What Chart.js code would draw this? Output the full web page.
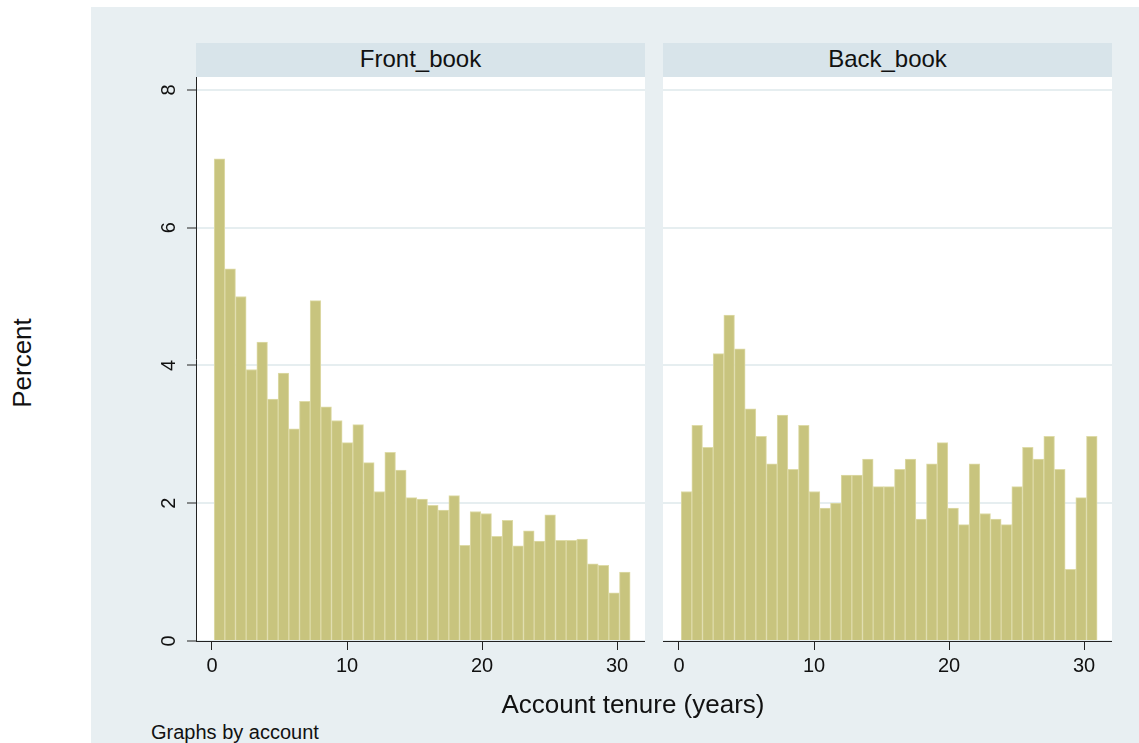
<!DOCTYPE html>
<html>
<head>
<meta charset="utf-8">
<script src="https://cdn.jsdelivr.net/npm/chart.js@4.4.1/dist/chart.umd.min.js"></script>
<style>
body { margin:0; background:#fff; font-family:"Liberation Sans", Arial, Helvetica, sans-serif; color:#111; }
#page { position:relative; width:1139px; height:743px; overflow:hidden; }
.bg { position:absolute; left:91px; top:7px; width:1048px; height:736px; background:#e8eff2; }
.strip { position:absolute; top:43px; height:34px; width:449px; background:#d8e4ea; font-size:24px; line-height:31px; text-align:center; }
.plot { position:absolute; top:77px; height:564px; width:449px; background:#fff; }
canvas { position:absolute; }
.lbl { position:absolute; white-space:nowrap; line-height:1; }
</style>
</head>
<body>
<div id="page">
  <div class="bg"></div>
  <div class="strip" style="left:196px">Front_book</div>
  <div class="strip" style="left:663px">Back_book</div>
  <div class="plot" style="left:196px"></div>
  <div class="plot" style="left:663px"></div>
  <canvas id="front" width="545" height="613" style="left:100px; top:77px"></canvas>
  <canvas id="back" width="449" height="613" style="left:663px; top:77px"></canvas>
  <div class="lbl" style="left:22px; top:363px; font-size:26px; transform:translate(-50%,-50%) rotate(-90deg)">Percent</div>
  <div class="lbl" style="left:633px; top:704px; font-size:26px; transform:translate(-50%,-50%)">Account tenure (years)</div>
  <div class="lbl" style="left:151px; top:732px; font-size:20px; transform:translateY(-50%)">Graphs by account</div>
</div>
<script>
// histogram bins (years)
var binStart = 0.16;
var binWidth = 0.79;

// percent per bin
var frontBook = [7.0, 5.40, 5.00, 3.94, 4.34, 3.51, 3.89, 3.08, 3.48, 4.94,
                 3.40, 3.20, 2.88, 3.14, 2.59, 2.17, 2.74, 2.48, 2.08, 2.06,
                 1.97, 1.90, 2.11, 1.39, 1.88, 1.85, 1.52, 1.75, 1.38, 1.60,
                 1.45, 1.83, 1.46, 1.46, 1.48, 1.12, 1.10, 0.70, 1.00];
var backBook = [2.17, 3.13, 2.81, 4.17, 4.73, 4.24, 3.37, 2.97, 2.57, 3.28,
                2.49, 3.13, 2.17, 1.93, 2.00, 2.41, 2.41, 2.64, 2.24, 2.24,
                2.49, 2.64, 1.77, 2.57, 2.88, 1.93, 1.69, 2.57, 1.85, 1.77,
                1.69, 2.24, 2.81, 2.64, 2.97, 2.49, 1.04, 2.08, 2.97];

var xTicks = [0, 10, 20, 30];
var yTicks = [0, 2, 4, 6, 8];

Chart.defaults.font.family = '"Liberation Sans", Arial, Helvetica, sans-serif';
Chart.defaults.font.size = 20;
Chart.defaults.color = '#111';

function points(values) {
    return values.map(function(v, i) {
        return { x: binStart + (i + 0.5) * binWidth, y: v };
    });
}

function noPad(s) {
    s.paddingTop = 0;
    s.paddingBottom = 0;
    s.paddingLeft = 0;
    s.paddingRight = 0;
}

function makeChart(id, values, showY) {
    var ctx = document.getElementById(id).getContext("2d");
    return new Chart(ctx, {
        type: "bar",
        data: {
            datasets: [{
                data: points(values),
                backgroundColor: "rgb(200,196,126)",
                borderColor: "rgb(222,219,168)",
                borderWidth: 1,
                barPercentage: 1,
                categoryPercentage: 1
            }]
        },
        options: {
            responsive: false,
            animation: false,
            layout: { padding: 0, autoPadding: false },
            plugins: { legend: { display: false }, tooltip: { enabled: false } },
            scales: {
                x: {
                    type: "linear",
                    offset: false,
                    min: -1.185,
                    max: 32.07,
                    afterBuildTicks: function(s) { s.ticks = xTicks.map(function(v) { return { value: v }; }); },
                    afterFit: function(s) { s.height = 49; noPad(s); },
                    grid: { offset: false, drawOnChartArea: false, tickLength: 9, tickColor: "#222", tickWidth: 1 },
                    border: { color: "#222", width: 1 },
                    ticks: { padding: 4, maxRotation: 0, autoSkip: false }
                },
                y: {
                    min: 0,
                    max: 8.186,
                    afterBuildTicks: function(s) { s.ticks = yTicks.map(function(v) { return { value: v }; }); },
                    afterFit: function(s) { s.width = showY ? 96 : 0; noPad(s); },
                    grid: { color: "#e6eef0", lineWidth: 2, drawTicks: showY, tickLength: 9, tickColor: "#222", tickWidth: 1 },
                    border: { display: showY, color: "#222", width: 1 },
                    ticks: { display: showY, minRotation: 90, maxRotation: 90, padding: 12, crossAlign: "center" }
                }
            }
        }
    });
}

makeChart("front", frontBook, true);
makeChart("back", backBook, false);
</script>
</body>
</html>
